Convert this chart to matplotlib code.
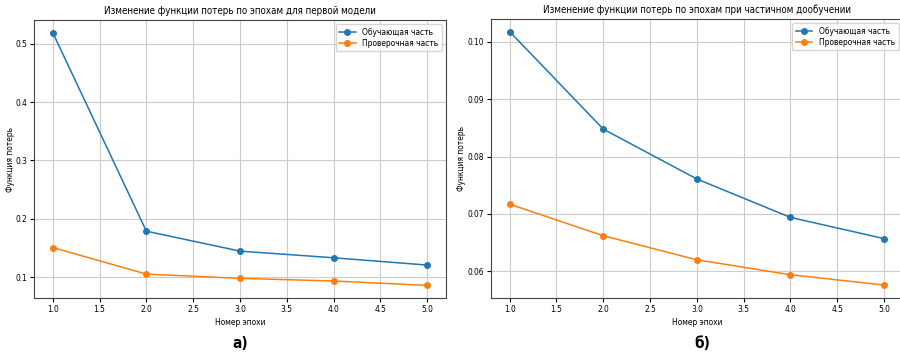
import matplotlib
matplotlib.use("Agg")
import matplotlib.pyplot as plt

epochs = [1, 2, 3, 4, 5]

# panel a) - first model
train_a = [0.519, 0.1786, 0.1444, 0.133, 0.1205]
val_a = [0.1506, 0.105, 0.0977, 0.0932, 0.0857]

# panel b) - partial fine-tuning
train_b = [0.1018, 0.0848, 0.0761, 0.0694, 0.0657]
val_b = [0.0717, 0.0662, 0.0620, 0.0594, 0.0576]

titles = [
    "Изменение функции потерь по эпохам для первой модели",
    "Изменение функции потерь по эпохам при частичном дообучении",
]
panel_labels = ["а)", "б)"]
train_label = "Обучающая часть"
val_label = "Проверочная часть"
xlabel = "Номер эпохи"
ylabel = "Функция потерь"

plt.rcParams["font.stretch"] = "condensed"

W, H = 900, 352
fig = plt.figure(figsize=(W / 100, H / 100), dpi=100)

rects = [
    (34 / W, 1 - 298 / H, 412 / W, 278 / H),
    (491 / W, 1 - 297.7 / H, 411.7 / W, 278.7 / H),
]
data = [(train_a, val_a), (train_b, val_b)]
label_x = [240 / W, 702 / W]
ylab_x = [(15.5 - 34) / 412, (465.5 - 491) / 411.7]

for i, (rect, (tr, va)) in enumerate(zip(rects, data)):
    ax = fig.add_axes(rect)
    ax.plot(epochs, tr, marker="o", markersize=4, linewidth=1.1,
            color="#1f77b4", label=train_label)
    ax.plot(epochs, va, marker="o", markersize=4, linewidth=1.1,
            color="#ff7f0e", label=val_label)
    ax.grid(True, color="#cccccc", linewidth=0.8)
    ax.set_title(titles[i], fontsize=7.0, pad=4)
    ax.set_xlabel(xlabel, fontsize=6, labelpad=3)
    ax.set_ylabel(ylabel, fontsize=6)
    ax.yaxis.set_label_coords(ylab_x[i], 0.5)
    ax.tick_params(axis="both", labelsize=6, length=3, pad=2)
    for sp in ax.spines.values():
        sp.set_color("#444444")
    ax.legend(loc="upper right", fontsize=6, framealpha=0.8,
              handlelength=2, borderpad=0.4, labelspacing=0.3)
    fig.text(label_x[i], 1 - 343 / H, panel_labels[i], fontsize=11,
             fontweight="bold", ha="center", va="center")

fig.savefig("out.png", dpi=100)
